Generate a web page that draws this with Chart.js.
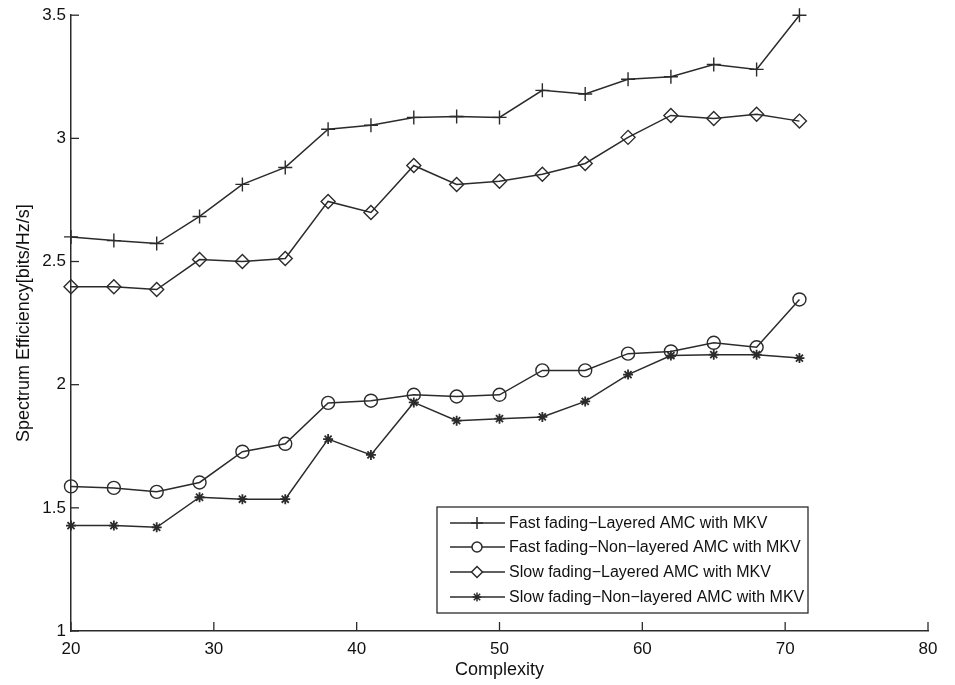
<!DOCTYPE html>
<html>
<head>
<meta charset="utf-8">
<script src="https://cdn.jsdelivr.net/npm/chart.js@4.4.1/dist/chart.umd.min.js"></script>
<style>
    html, body { margin: 0; padding: 0; background: #ffffff; }
    #wrap { width: 955px; height: 685px; position: relative; }
</style>
</head>
<body>
<div id="wrap"><canvas id="effChart" width="955" height="685"></canvas></div>
<script>
// ---------- data ----------
const complexity = [20, 23, 26, 29, 32, 35, 38, 41, 44, 47, 50, 53, 56, 59, 62, 65, 68, 71];

const fastLayered = [2.60, 2.585, 2.573, 2.683, 2.813, 2.882, 3.037, 3.053, 3.085, 3.089, 3.085, 3.195, 3.18, 3.24, 3.25, 3.30, 3.28, 3.50];
const fastNonLayered = [1.587, 1.581, 1.565, 1.603, 1.728, 1.760, 1.926, 1.935, 1.959, 1.952, 1.959, 2.058, 2.058, 2.126, 2.135, 2.17, 2.152, 2.346];
const slowLayered = [2.398, 2.398, 2.386, 2.508, 2.50, 2.512, 2.744, 2.699, 2.890, 2.813, 2.826, 2.854, 2.898, 3.004, 3.093, 3.081, 3.098, 3.07];
const slowNonLayered = [1.428, 1.428, 1.421, 1.543, 1.535, 1.535, 1.779, 1.715, 1.928, 1.854, 1.862, 1.869, 1.932, 2.041, 2.118, 2.122, 2.122, 2.108];

const seriesLabels = [
    "Fast fading\u2212Layered AMC with MKV",
    "Fast fading\u2212Non\u2212layered AMC with MKV",
    "Slow fading\u2212Layered AMC with MKV",
    "Slow fading\u2212Non\u2212layered AMC with MKV"
];

const xTicks = [20, 30, 40, 50, 60, 70, 80];
const yTicks = [1, 1.5, 2, 2.5, 3, 3.5];

const ink = "#2b2b2b";
const font = "'Liberation Sans', Arial, sans-serif";

function toPoints(ys) {
    return complexity.map((x, i) => ({ x: x, y: ys[i] }));
}

// ---------- marker styles per series ----------
const markers = [
    { pointStyle: "cross", pointRadius: 7, legendRadius: 6, pointBorderWidth: 1.4 },
    { pointStyle: "circle", pointRadius: 6.5, legendRadius: 5, pointBorderWidth: 1.4 },
    { pointStyle: "rectRot", pointRadius: 7, legendRadius: 5.5, pointBorderWidth: 1.4 },
    { pointStyle: "star", pointRadius: 5, legendRadius: 4.5, pointBorderWidth: 1.8 }
];

const allSeries = [fastLayered, fastNonLayered, slowLayered, slowNonLayered];

const datasets = allSeries.map((ys, i) => ({
    label: seriesLabels[i],
    data: toPoints(ys),
    borderColor: ink,
    borderWidth: 1.5,
    backgroundColor: "rgba(0,0,0,0)",
    pointBackgroundColor: "rgba(0,0,0,0)",
    pointBorderColor: ink,
    pointStyle: markers[i].pointStyle,
    pointRadius: markers[i].pointRadius,
    pointBorderWidth: markers[i].pointBorderWidth,
    tension: 0,
    fill: false,
    clip: false
}));

// ---------- inward ticks + boxed legend ----------
const matlabLook = {
    id: "matlabLook",
    afterDraw(chart) {
        const ctx = chart.ctx;
        const area = chart.chartArea;
        const xs = chart.scales.x;
        const ys = chart.scales.y;

        ctx.save();
        ctx.strokeStyle = ink;
        ctx.lineWidth = 1.3;
        xTicks.forEach(v => {
            const px = xs.getPixelForValue(v);
            ctx.beginPath();
            ctx.moveTo(px, area.bottom);
            ctx.lineTo(px, area.bottom - 9);
            ctx.stroke();
        });
        yTicks.forEach(v => {
            const py = ys.getPixelForValue(v);
            ctx.beginPath();
            ctx.moveTo(area.left, py);
            ctx.lineTo(area.left + 8, py);
            ctx.stroke();
        });

        // legend box
        const box = { left: 437, top: 507, right: 808, bottom: 613 };
        ctx.fillStyle = "#ffffff";
        ctx.fillRect(box.left, box.top, box.right - box.left, box.bottom - box.top);
        ctx.lineWidth = 1.3;
        ctx.strokeRect(box.left, box.top, box.right - box.left, box.bottom - box.top);

        const rowY = [523, 547, 572, 597];
        ctx.font = "16px " + font;
        ctx.textBaseline = "middle";
        ctx.textAlign = "left";
        seriesLabels.forEach((label, i) => {
            const y = rowY[i];
            ctx.strokeStyle = ink;
            ctx.lineWidth = 1.5;
            ctx.beginPath();
            ctx.moveTo(450, y);
            ctx.lineTo(505, y);
            ctx.stroke();
            ctx.fillStyle = markers[i].pointStyle === "star" ? ink : "#ffffff";
            Chart.helpers.drawPoint(ctx, {
                pointStyle: markers[i].pointStyle,
                radius: markers[i].legendRadius,
                rotation: 0,
                borderWidth: markers[i].pointBorderWidth
            }, 477, y);
            ctx.fillStyle = "#111111";
            ctx.fillText(label, 509, y + 1);
        });
        ctx.restore();
    }
};

// chart area: left 71, right 928, top 15, bottom 631
const chart = new Chart(document.getElementById("effChart"), {
    type: "line",
    data: { datasets: datasets },
    plugins: [matlabLook],
    options: {
        responsive: false,
        animation: false,
        layout: {
            padding: { left: 0, right: 27, top: 15, bottom: 0 }
        },
        plugins: {
            legend: { display: false },
            tooltip: { enabled: false }
        },
        scales: {
            x: {
                type: "linear",
                min: 20,
                max: 80,
                afterBuildTicks: s => { s.ticks = xTicks.map(v => ({ value: v })); },
                afterFit: s => { s.height = 685 - 631; },
                ticks: {
                    color: "#111111",
                    font: { family: font, size: 17 },
                    padding: 8,
                    maxRotation: 0,
                    callback: v => String(v)
                },
                grid: { display: false, drawTicks: false },
                border: { display: true, color: ink, width: 1.5 },
                title: {
                    display: true,
                    text: "Complexity",
                    color: "#111111",
                    font: { family: font, size: 18 },
                    padding: { top: 0, bottom: 4 }
                }
            },
            y: {
                type: "linear",
                min: 1,
                max: 3.5,
                afterBuildTicks: s => { s.ticks = yTicks.map(v => ({ value: v })); },
                afterFit: s => { s.width = 71; },
                ticks: {
                    color: "#111111",
                    font: { family: font, size: 17 },
                    padding: 5,
                    callback: v => String(v)
                },
                grid: { display: false, drawTicks: false },
                border: { display: true, color: ink, width: 1.5 },
                title: {
                    display: true,
                    text: "Spectrum Efficiency[bits/Hz/s]",
                    color: "#111111",
                    font: { family: font, size: 18 },
                    padding: { top: 13, bottom: 0 }
                }
            }
        }
    }
});
</script>
</body>
</html>
